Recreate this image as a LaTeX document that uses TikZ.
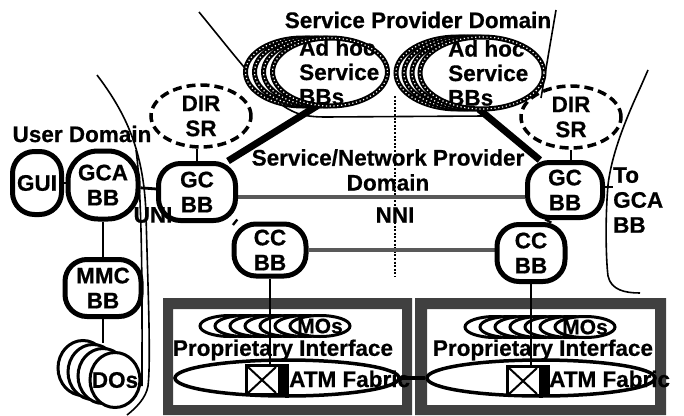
\documentclass[tikz,border=0pt]{standalone}
\usepackage{fontspec}
\setmainfont{Liberation Sans}[BoldFeatures={FakeBold=0.6}]
\usetikzlibrary{shapes.geometric}
\pgfdeclarelayer{bg}
\pgfdeclarelayer{links}
\pgfsetlayers{bg,links,main}
\begin{document}
\begin{tikzpicture}[x=1pt, y=-1pt,
  txt/.style={font=\fontsize{22.5}{25}\selectfont\bfseries, inner sep=0pt, align=center},
  bb/.style={txt, draw, fill=white, line width=5pt, rounded corners=#1},
  bb/.default=22pt,
  adhocedge/.style={line width=5pt, postaction={draw=white, fill=none, line width=1.2pt, dash pattern=on 1.2pt off 2.6pt}},
  adhoc/.style={ellipse, draw, fill=white, inner sep=0pt, adhocedge},
  dirsr/.style={ellipse, draw, line width=3.5pt, dash pattern=on 9pt off 5pt, inner sep=0pt, minimum width=100pt, minimum height=62pt},
  mobub/.style={ellipse, draw, fill=white, line width=3pt, inner sep=0pt, minimum width=60pt, minimum height=21pt},
  dodisc/.style={ellipse, draw, fill=white, line width=3pt, inner sep=0pt, minimum width=50pt, minimum height=55pt},
  fabric/.style={ellipse, draw, line width=3.5pt, inner sep=0pt, minimum height=36pt},
  switchbox/.style={draw, fill=white, line width=3pt, inner sep=0pt, minimum width=41pt, minimum height=29pt},
  thinlink/.style={line width=2.8pt},
  heavylink/.style={line width=7pt},
  greylink/.style={line width=4.5pt, draw=black!65},
  boundary/.style={line width=1.6pt},
  hatchframe/.style={fill=black!75, even odd rule},
]
\useasboundingbox (0,0) rectangle (684,415);

% ---------- domain boundaries and equipment frames ----------
\begin{pgfonlayer}{bg}
  \draw[boundary] (199,12) .. controls (240,62) and (268,100) .. (292,111)
        .. controls (300,115) and (310,117) .. (325,117) -- (485,116);
  \draw[boundary] (556,10) -- (541,98);
  \draw[boundary] (97,75) .. controls (125,112) and (144,150) .. (146,215)
        .. controls (148,290) and (151,360) .. (148,386)
        .. controls (146,398) and (136,408) .. (127,415);
  \draw[boundary] (136,150) .. controls (143,200) and (142,320) .. (142,386);
  \draw[boundary] (648,70) -- (641,86) .. controls (630,110) and (612,150) .. (608,185)
        .. controls (605,220) and (606,260) .. (608,276)
        .. controls (611,290) and (625,293) .. (640,293);
  \draw[line width=2.2pt, dash pattern=on 2pt off 1.6pt] (395,96) -- (395,277);
  \fill[hatchframe] (163,298) rectangle (412,415) (173,309) rectangle (402,405);
  \fill[hatchframe] (415,298) rectangle (666,415) (427,309) rectangle (655,405);
\end{pgfonlayer}

% ---------- building blocks ----------
\node[bb] (gui) at (37,183) [minimum width=49pt, minimum height=63pt] {GUI};
\node[bb=30pt] (gca) at (103,185) [minimum width=70pt, minimum height=68pt] {GCA\\BB};
\node[bb] (gcL) at (197,192) [minimum width=77pt, minimum height=57pt] {GC\\BB};
\node[bb] (gcR) at (565,190) [minimum width=75pt, minimum height=55pt] {GC\\BB};
\node[bb] (ccL) at (270,250) [minimum width=72pt, minimum height=52pt] {CC\\BB};
\node[bb] (ccR) at (531,253) [minimum width=68pt, minimum height=57pt] {CC\\BB};
\node[bb] (mmc) at (103,288) [minimum width=76pt, minimum height=57pt] {MMC\\BB};

\node[dirsr] (dirL) at (201,116) {};
\node[dirsr] (dirR) at (571,117) {};

% ad hoc service building blocks (stacked)
\foreach \i/\x in {3/303,2/312,1/321}
  \node[adhoc, minimum width=115pt, minimum height=68pt] (adhocL\i) at (\x,72) {};
\node[ellipse, fill=white, inner sep=0pt, minimum width=115pt, minimum height=68pt] (adhocLf) at (330,72) {};
\foreach \i/\x in {3/458,2/466,1/474}
  \node[adhoc, minimum width=124pt, minimum height=72pt] (adhocR\i) at (\x,73) {};
\node[ellipse, fill=white, inner sep=0pt, minimum width=124pt, minimum height=72pt] (adhocRf) at (482,73) {};

% device objects
\node[dodisc] (dos4) at (83,368) {};
\node[dodisc] (dos3) at (93,372) {};
\node[dodisc] (dos2) at (103,376) {};
\node[dodisc] (dos1) at (115,380) {};

% ATM fabrics with switches
\node[fabric, minimum width=224pt] (atmL) at (287,378) {};
\node[fabric, minimum width=228pt] (atmR) at (541,378) {};
\node[switchbox] (swL) at (267,380) {};
\node[switchbox] (swR) at (528,381) {};
\foreach \s in {swL,swR}{
  \fill ([xshift=-11pt]\s.north east) rectangle (\s.south east);
  \draw[line width=2pt] ([shift={(3pt,-3pt)}]\s.north west) -- ([shift={(-13pt,3pt)}]\s.south east);
  \draw[line width=2pt] ([shift={(3pt,3pt)}]\s.south west) -- ([shift={(-13pt,-3pt)}]\s.north east);
}

% managed objects
\foreach \k in {0,...,6}{
  \node[mobub] (moL\k) at ({230+15*\k},326) {};
  \node[mobub] (moR\k) at ({495+15*\k},327) {};
}

\draw[thinlink] (ccL.south) -- (ccL.south |- swL.north);
\draw[thinlink] (ccR.south) -- (ccR.south |- swR.north);

% ---------- connectors ----------
\begin{pgfonlayer}{links}
  \draw[thinlink] (gui.east) -- (gui.east -| gca.west);
  \draw[thinlink] (gca) -- (gcL);
  \draw[thinlink] (gca) -- (mmc);
  \draw[thinlink] (mmc.south) -- (mmc.south |- dos3.north);
  \draw[thinlink] (gcL.north) -- (gcL.north |- dirL.south);
  \draw[thinlink] (dirR.south) -- (dirR.south |- gcR.north);
  \draw[heavylink] (gcL.45) -- (adhocLf.250);
  \draw[heavylink] (gcR.130) -- (adhocRf.265);
  \draw[greylink] ([yshift=-5pt]gcL.east) -- ([yshift=-5pt]gcL.east -| gcR.west);
  \draw[heavylink] (gcL) -- (ccL);
  \draw[heavylink] (gcR) -- (ccR);
  \draw[greylink] (ccL.east) -- (ccL.east -| ccR.west);
  \coordinate (toend) at (613,187);
  \draw[thinlink] ([yshift=3pt]gcR.east) -- (toend);
  \draw[line width=3.5pt] (atmL.east) -- (atmR.west);
\end{pgfonlayer}

% ---------- labels ----------
\node[txt] (title) at (418,20) {Service Provider Domain};
\node[txt] (userdom) at (82,134) {User Domain};
\node[txt] (uni) at (153,215) {UNI};
\node[txt] (snp) at (388,170) {Service/Network Provider\\Domain};
\node[txt] (nni) at (395,215) {NNI};
\node[txt, align=left, anchor=west] (togca) at (613,200) {To\\GCA\\BB};
\node[txt] (dirLt) at (dirL) {DIR\\SR};
\node[txt] (dirRt) at (dirR) {DIR\\SR};
\node[txt, align=left, anchor=west, font=\fontsize{22.5}{24.5}\selectfont\bfseries] (ahLt) at (299,72) {Ad hoc\\Service\\BBs};
\node[txt, align=left, anchor=west, font=\fontsize{22.5}{24.5}\selectfont\bfseries] (ahRt) at (448,73) {Ad hoc\\Service\\BBs};
\node[txt, font=\fontsize{21}{24}\selectfont\bfseries] (moLt) at (moL6) {MOs};
\node[txt, font=\fontsize{21}{24}\selectfont\bfseries] (moRt) at (moR6) {MOs};
\node[txt] (dost) at (dos1) {DOs};
\node[txt] (propL) at (283,350) {Proprietary Interface};
\node[txt] (propR) at (543,350) {Proprietary Interface};
\node[txt, anchor=west] (atmLt) at (289,379) {ATM Fabric};
\node[txt, anchor=west] (atmRt) at (549,379) {ATM Fabric};

% front ad hoc outlines over their labels
\draw[adhocedge] (adhocLf.center) ellipse [x radius=57.5, y radius=34];
\draw[adhocedge] (adhocRf.center) ellipse [x radius=62, y radius=36];
\end{tikzpicture}
\end{document}
